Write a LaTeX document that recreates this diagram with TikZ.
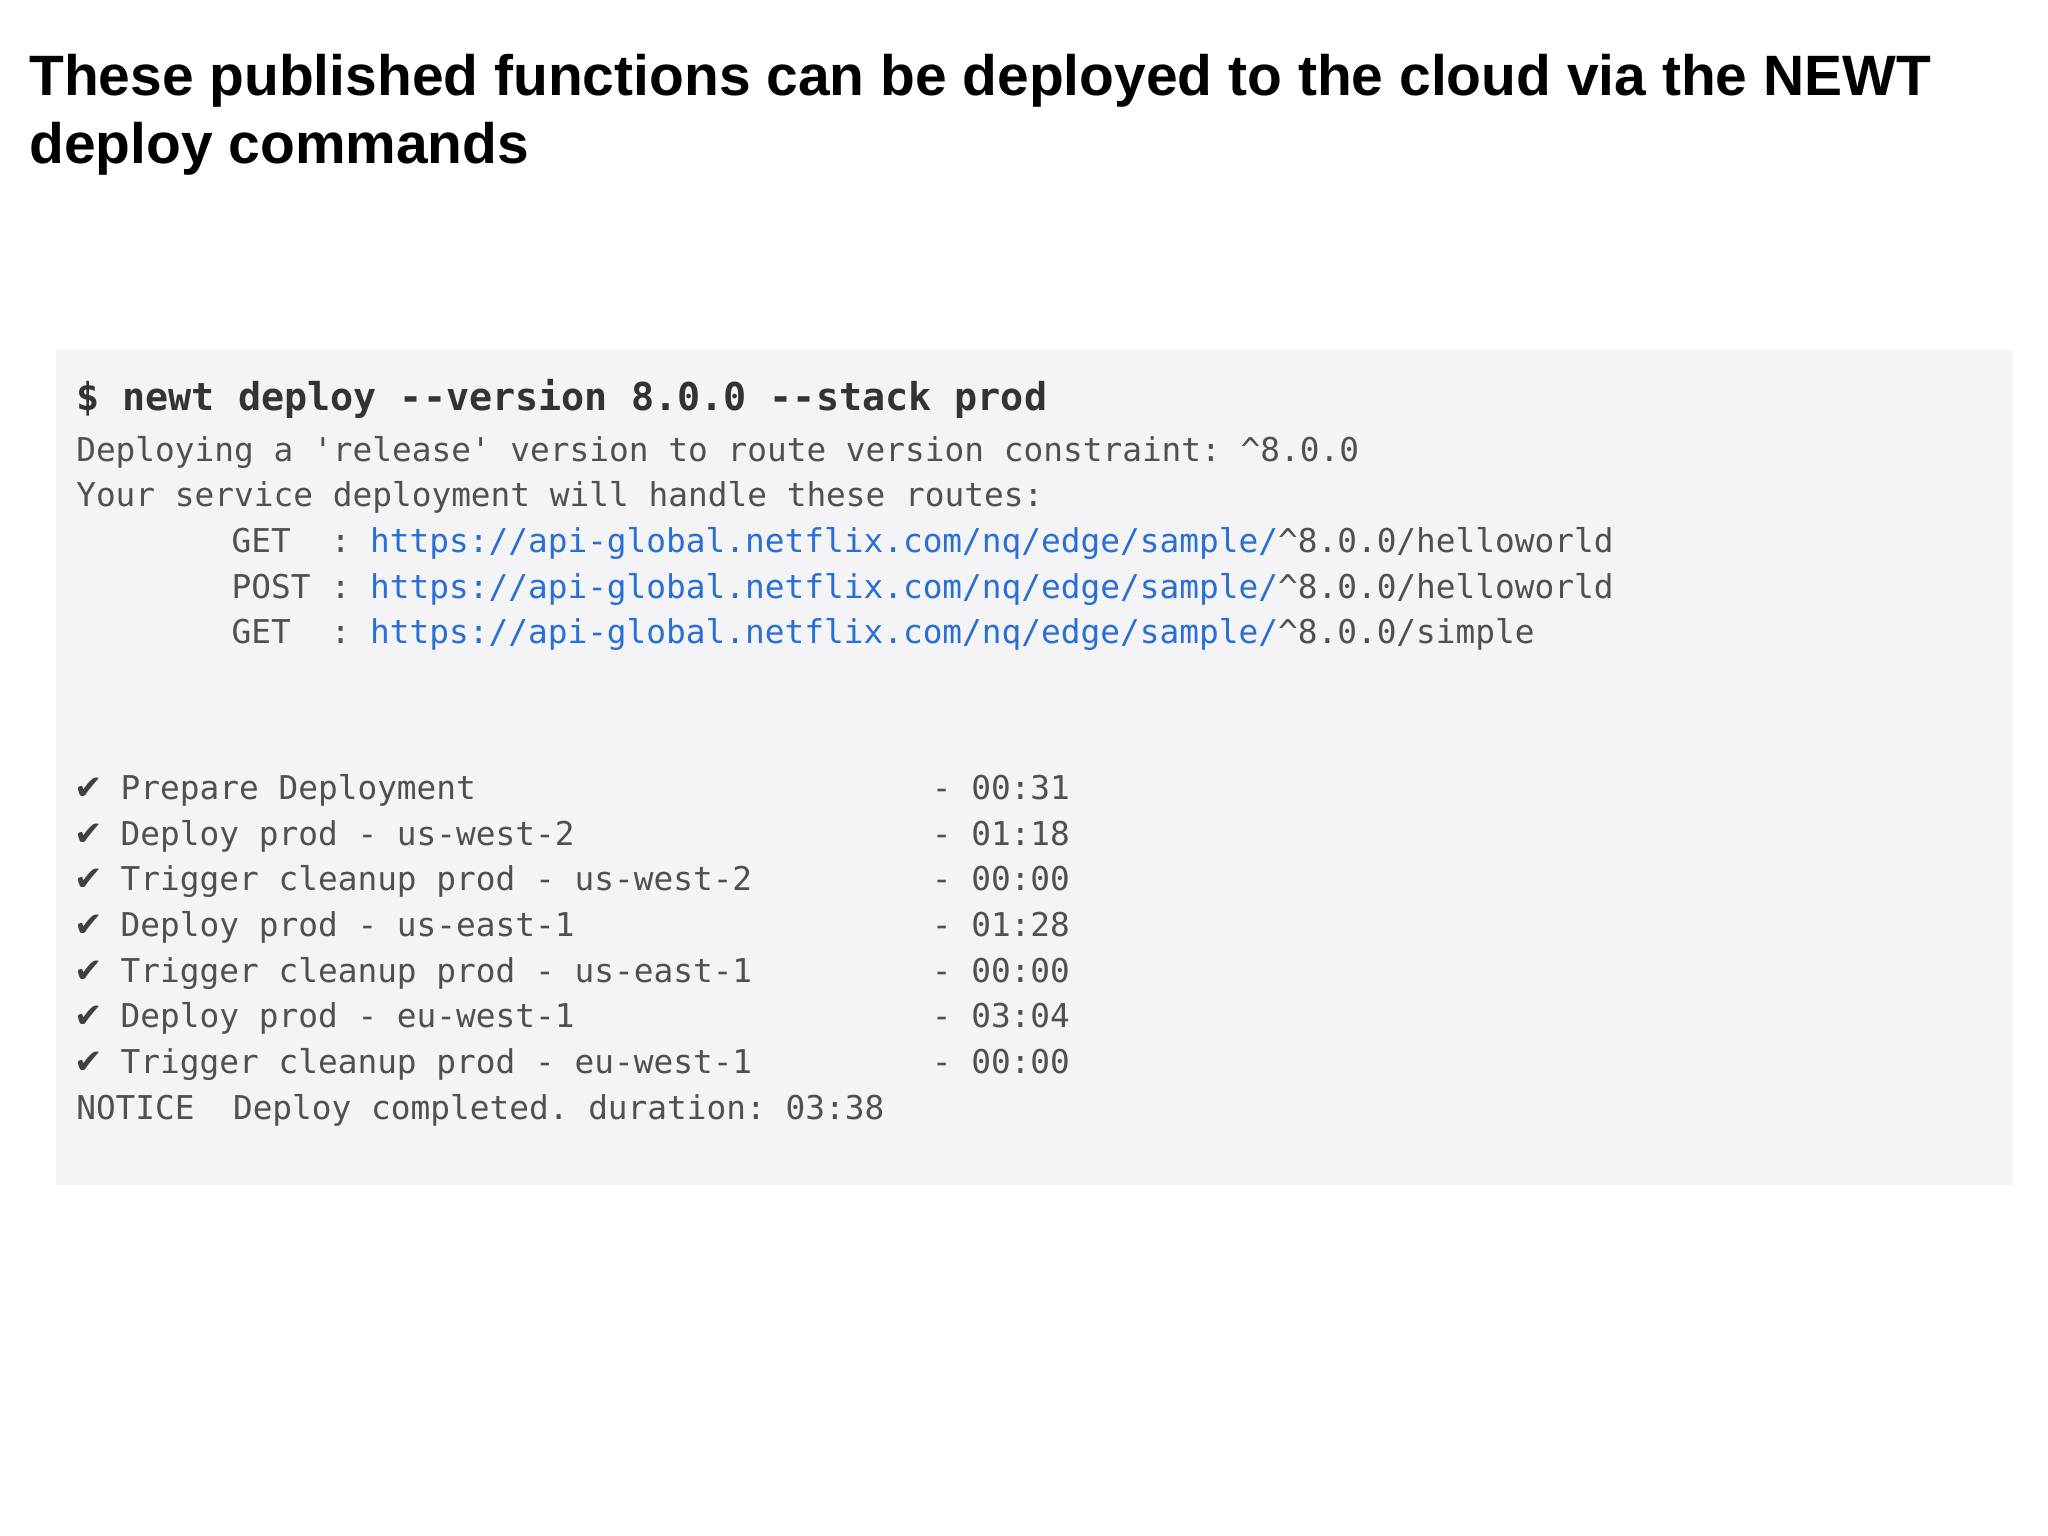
\documentclass[tikz,border=0pt]{standalone}
\usepackage{fontspec}
\setmainfont{Liberation Sans}
\setmonofont{DejaVu Sans Mono}
\newfontfamily\symfont{DejaVu Sans}
\definecolor{boxbg}{HTML}{F4F4F6}
\definecolor{txt}{HTML}{505050}
\definecolor{url}{HTML}{2A6FD6}
\begin{document}
\begin{tikzpicture}[x=0.5pt,y=-0.5pt,
  every node/.style={anchor=base west,inner sep=0pt},
  tl/.style={font=\ttfamily\fontsize{12.55pt}{14pt}\selectfont,text=txt},
  ttl/.style={font=\bfseries\fontsize{21.8pt}{26pt}\selectfont,text=black}]
\useasboundingbox (0,0) rectangle (1568,1176);
\fill[boxbg] (43,268) rectangle (1541,907);
\node[ttl] (t1) at (22,73) {These published functions can be deployed to the cloud via the NEWT};
\node[ttl] (t2) at (22,125) {deploy commands};
\node[font=\ttfamily\bfseries\fontsize{14.7pt}{16pt}\selectfont,text=black!80] (cmd) at (58,314) {\$ newt deploy -{}-version 8.0.0 -{}-stack prod};
\node[tl] (l1) at (58,353) {Deploying a 'release' version to route version constraint: \^{}8.0.0};
\node[tl] (l2) at (58,388) {Your service deployment will handle these routes:};
\foreach \m/\y/\e in {GET/423/helloworld,POST/458/helloworld,GET/493/simple}{
  \node[tl] at (177,\y) {\m};
  \node[tl] at (253,\y) {:};
  \node[tl] at (283,\y) {\textcolor{url}{https://api-global.netflix.com/nq/edge/sample/}\^{}8.0.0/\e};
}
\foreach \t/\d/\y in {Prepare Deployment/00:31/612,Deploy prod - us-west-2/01:18/647,Trigger cleanup prod - us-west-2/00:00/682,Deploy prod - us-east-1/01:28/717,Trigger cleanup prod - us-east-1/00:00/752,Deploy prod - eu-west-1/03:04/787,Trigger cleanup prod - eu-west-1/00:00/822}{
  \node[tl,font=\symfont\fontsize{13pt}{14pt}\selectfont,text=black!75] at (57,\y) {✔};
  \node[tl] at (92,\y) {\t};
  \node[tl] at (713,\y) {- \d};
}
\node[tl] (n1) at (58,857) {NOTICE};
\node[tl] (n2) at (178,857) {Deploy completed. duration: 03:38};
\end{tikzpicture}
\end{document}
